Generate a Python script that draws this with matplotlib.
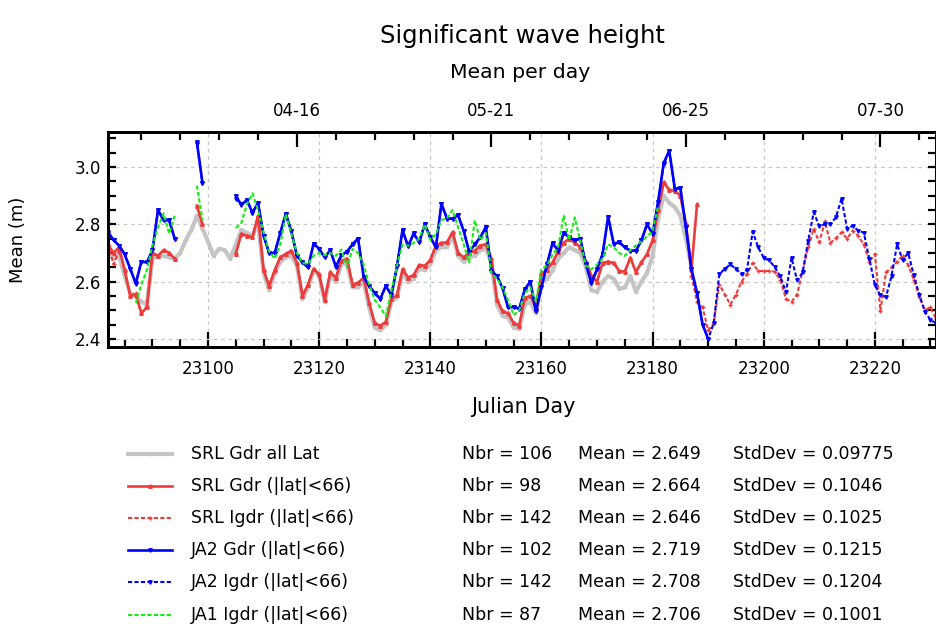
import numpy as np
import matplotlib
matplotlib.use("Agg")
import matplotlib.pyplot as plt
from matplotlib.lines import Line2D
from matplotlib.ticker import MultipleLocator, FormatStrFormatter

# daily means of significant wave height, Julian days (CNES)
gray_start = 23082
gray_vals = [2.70, 2.68, 2.69, 2.62, 2.56, 2.55, 2.53, 2.52, 2.68, 2.69,
             2.69, 2.685, 2.68, 2.70, 2.745, 2.78, 2.83, 2.785, 2.74, 2.69,
             2.715, 2.71, 2.68, 2.73, 2.78, 2.77, 2.76, 2.81, 2.63, 2.57,
             2.63, 2.67, 2.685, 2.69, 2.655, 2.54, 2.58, 2.64, 2.62, 2.53,
             2.62, 2.60, 2.66, 2.665, 2.58, 2.58, 2.60, 2.51, 2.44, 2.43,
             2.45, 2.53, 2.545, 2.63, 2.60, 2.61, 2.645, 2.64, 2.66, 2.71,
             2.72, 2.72, 2.76, 2.69, 2.67, 2.685, 2.69, 2.71, 2.715, 2.665,
             2.52, 2.48, 2.475, 2.44, 2.435, 2.52, 2.53, 2.49, 2.60, 2.61,
             2.64, 2.68, 2.70, 2.72, 2.71, 2.70, 2.65, 2.57, 2.565, 2.60,
             2.62, 2.61, 2.575, 2.58, 2.62, 2.565, 2.60, 2.63, 2.69, 2.82,
             2.90, 2.875, 2.86, 2.83, 2.75, 2.65]

srl_gdr_start = 23082
srl_gdr_vals = [2.73, 2.70, 2.72, 2.64, 2.55, 2.555, 2.49, 2.51, 2.70, 2.69,
                2.71, 2.70, 2.68, None, None, None, 2.865, 2.80, None, None,
                None, None, None, 2.697, 2.767, 2.76, 2.755, 2.83, 2.64, 2.585,
                2.64, 2.685, 2.697, 2.708, 2.665, 2.55, 2.59, 2.645, 2.625, 2.537,
                2.632, 2.614, 2.673, 2.68, 2.59, 2.596, 2.614, 2.526, 2.455, 2.446,
                2.46, 2.54, 2.552, 2.643, 2.614, 2.623, 2.658, 2.655, 2.675, 2.726,
                2.735, 2.737, 2.773, 2.70, 2.685, 2.70, 2.708, 2.726, 2.73, 2.68,
                2.537, 2.496, 2.49, 2.455, 2.447, 2.543, 2.55, 2.51, 2.63, 2.64,
                2.667, 2.705, 2.735, 2.75, 2.735, 2.72, 2.67, 2.62, 2.60, 2.665,
                2.67, 2.665, 2.637, 2.635, 2.683, 2.634, 2.667, 2.696, 2.744, 2.85,
                2.947, 2.92, 2.917, 2.90, 2.80, 2.645, 2.87]

srl_igdr_start = 23082
srl_igdr_vals = [2.73, 2.66, 2.71, 2.64, 2.55, 2.56, 2.49, 2.515, 2.70, 2.69,
                 2.71, 2.70, 2.68, None, None, None, 2.86, 2.80, None, None,
                 None, None, None, 2.70, 2.765, 2.76, 2.755, 2.83, 2.64, 2.585,
                 2.64, 2.685, 2.697, 2.708, 2.665, 2.55, 2.59, 2.645, 2.625, 2.537,
                 2.632, 2.614, 2.673, 2.68, 2.59, 2.596, 2.614, 2.526, 2.455, 2.446,
                 2.46, 2.54, 2.552, 2.643, 2.614, 2.623, 2.658, 2.655, 2.675, 2.726,
                 2.735, 2.737, 2.773, 2.70, 2.685, 2.70, 2.708, 2.726, 2.73, 2.68,
                 2.537, 2.496, 2.49, 2.455, 2.447, 2.543, 2.55, 2.51, 2.63, 2.64,
                 2.667, 2.705, 2.735, 2.75, 2.735, 2.72, 2.67, 2.62, 2.60, 2.665,
                 2.67, 2.665, 2.637, 2.635, 2.683, 2.634, 2.667, 2.696, 2.744, 2.85,
                 2.945, 2.92, 2.915, 2.90, 2.80, 2.62, 2.53, 2.51, 2.43, 2.455,
                 2.59, 2.555, 2.52, 2.555, 2.60, 2.626, 2.665, 2.637, 2.637, 2.637,
                 2.635, 2.605, 2.54, 2.53, 2.555, 2.637, 2.72, 2.785, 2.737, 2.81,
                 2.735, 2.752, 2.772, 2.75, 2.778, 2.76, 2.73, 2.67, 2.696, 2.498,
                 2.632, 2.65, 2.67, 2.69, 2.658, 2.607, 2.547, 2.50, 2.51, 2.47]

ja2_gdr_start = 23082
ja2_gdr_vals = [2.773, 2.745, 2.726, 2.695, 2.645, 2.593, 2.67, 2.667, 2.71, 2.85,
                2.814, 2.814, 2.75, None, None, None, 3.087, 2.944, None, None,
                None, None, None, 2.90, 2.867, 2.885, 2.84, 2.875, 2.76, 2.70,
                2.70, 2.77, 2.837, 2.775, 2.69, 2.667, 2.65, 2.733, 2.714, 2.685,
                2.709, 2.652, 2.692, 2.705, 2.73, 2.75, 2.617, 2.585, 2.56, 2.54,
                2.585, 2.553, 2.653, 2.78, 2.723, 2.768, 2.737, 2.80, 2.755, 2.72,
                2.872, 2.82, 2.82, 2.832, 2.777, 2.704, 2.73, 2.755, 2.79, 2.637,
                2.62, 2.577, 2.51, 2.512, 2.505, 2.573, 2.60, 2.496, 2.58, 2.66,
                2.735, 2.708, 2.77, 2.755, 2.744, 2.75, 2.66, 2.596, 2.643, 2.696,
                2.826, 2.732, 2.737, 2.72, 2.708, 2.708, 2.744, 2.80, 2.767, 2.879,
                3.014, 3.057, 2.924, 2.926, 2.79, 2.643, 2.56, 2.45, 2.40]

ja2_igdr_start = 23082
ja2_igdr_vals = [2.77, 2.745, 2.726, 2.695, 2.645, 2.595, 2.67, 2.667, 2.71, 2.85,
                 2.814, 2.814, 2.75, None, None, None, 3.08, 2.944, None, None,
                 None, None, None, 2.89, 2.87, 2.885, 2.84, 2.875, 2.76, 2.70,
                 2.70, 2.77, 2.837, 2.775, 2.69, 2.667, 2.65, 2.733, 2.714, 2.685,
                 2.709, 2.652, 2.692, 2.705, 2.73, 2.75, 2.617, 2.585, 2.56, 2.54,
                 2.585, 2.553, 2.653, 2.78, 2.723, 2.768, 2.737, 2.80, 2.755, 2.72,
                 2.872, 2.82, 2.82, 2.832, 2.777, 2.704, 2.73, 2.755, 2.79, 2.637,
                 2.62, 2.577, 2.51, 2.512, 2.505, 2.573, 2.60, 2.496, 2.58, 2.66,
                 2.735, 2.708, 2.77, 2.755, 2.744, 2.75, 2.66, 2.596, 2.643, 2.696,
                 2.826, 2.732, 2.737, 2.72, 2.708, 2.708, 2.744, 2.80, 2.767, 2.879,
                 3.01, 3.055, 2.924, 2.926, 2.79, 2.643, 2.56, 2.45, 2.40, 2.455,
                 2.625, 2.645, 2.66, 2.645, 2.625, 2.642, 2.774, 2.72, 2.683, 2.674,
                 2.65, 2.618, 2.563, 2.683, 2.605, 2.632, 2.743, 2.842, 2.793, 2.80,
                 2.80, 2.825, 2.89, 2.785, 2.795, 2.778, 2.771, 2.68, 2.588, 2.552,
                 2.547, 2.62, 2.73, 2.676, 2.70, 2.623, 2.555, 2.495, 2.467, 2.455]

ja1_igdr_start = 23087
ja1_igdr_vals = [2.526, 2.59, 2.64, 2.727, 2.79, 2.838, 2.768, 2.83, None, None,
                 None, 2.935, 2.814, None, None, None, None, None, 2.787, 2.805,
                 2.87, 2.908, 2.85, 2.77, 2.705, 2.68, 2.73, 2.835, 2.765, 2.70,
                 2.665, 2.662, 2.69, 2.70, 2.692, 2.70, 2.69, 2.712, 2.65, 2.714,
                 2.70, 2.66, 2.59, 2.537, 2.51, 2.48, 2.57, 2.655, 2.73, 2.725,
                 2.735, 2.75, 2.80, 2.745, 2.765, 2.815, 2.82, 2.85, 2.79, 2.73,
                 2.667, 2.814, 2.745, 2.77, 2.63, 2.61, 2.58, 2.535, 2.483, 2.50,
                 2.56, 2.58, 2.53, 2.645, 2.655, 2.695, 2.72, 2.83, 2.745, 2.824,
                 2.74, 2.655, 2.643, 2.66, 2.68, 2.73, 2.72, 2.70, 2.69, 2.71,
                 2.726, 2.74, 2.758, 2.775, 2.865]

date_ticks = [23116, 23151, 23186, 23221]
date_labels = ["04-16", "05-21", "06-25", "07-30"]

leg_labels = ["SRL Gdr all Lat", "SRL Gdr (|lat|<66)", "SRL Igdr (|lat|<66)",
              "JA2 Gdr (|lat|<66)", "JA2 Igdr (|lat|<66)", "JA1 Igdr (|lat|<66)"]
leg_nbr = ["106", "98", "142", "102", "142", "87"]
leg_mean = ["2.649", "2.664", "2.646", "2.719", "2.708", "2.706"]
leg_std = ["0.09775", "0.1046", "0.1025", "0.1215", "0.1204", "0.1001"]

RED = "#ee3b3b"
BLUE = "#0000ff"
GREEN = "#11ee11"
GRAY = "#c4c4c4"

styles = [
    dict(color=GRAY, lw=3.0, ls="-", marker="s", ms=2.0),
    dict(color=RED, lw=1.9, ls="-", marker="^", ms=2.5),
    dict(color=RED, lw=1.5, ls=(0, (2.0, 1.1)), marker="+", ms=3.0),
    dict(color=BLUE, lw=1.9, ls="-", marker="v", ms=2.5),
    dict(color=BLUE, lw=1.5, ls=(0, (2.0, 1.1)), marker="v", ms=2.5),
    dict(color=GREEN, lw=1.5, ls=(0, (2.0, 1.1)), marker="None", ms=0),
]

series = [(gray_start, gray_vals), (srl_gdr_start, srl_gdr_vals),
          (srl_igdr_start, srl_igdr_vals), (ja2_gdr_start, ja2_gdr_vals),
          (ja2_igdr_start, ja2_igdr_vals), (ja1_igdr_start, ja1_igdr_vals)]

W, H = 937, 624
fig = plt.figure(figsize=(W / 100, H / 100), dpi=100)
ax = fig.add_axes([108 / W, 1 - 347 / H, 828 / W, 215 / H])

order = [0, 2, 1, 4, 3, 5]
for k in order:
    start, vals = series[k]
    y = np.array(vals, dtype=float)
    x = start + np.arange(len(y))
    st = styles[k]
    ax.plot(x, y, color=st["color"], lw=st["lw"], ls=st["ls"],
            marker=st["marker"], ms=st["ms"], zorder=2 + k)

ax.set_xlim(23082, 23231)
ax.set_ylim(2.372, 3.122)
ax.xaxis.set_major_locator(MultipleLocator(20))
ax.xaxis.set_minor_locator(MultipleLocator(5))
ax.yaxis.set_major_locator(MultipleLocator(0.2))
ax.yaxis.set_minor_locator(MultipleLocator(0.05))
ax.yaxis.set_major_formatter(FormatStrFormatter("%.1f"))
ax.grid(True, which="major", ls=(0, (3, 3)), color="#c8c8c8", lw=0.9)
ax.tick_params(which="both", direction="in", top=False, right=True, width=1.6,
               labelsize=12)
ax.tick_params(axis="x", which="major", length=11, pad=9)
ax.tick_params(axis="x", which="minor", length=6)
ax.tick_params(axis="y", which="both", length=6, pad=5)
for s in ax.spines.values():
    s.set_linewidth(2)

ax2 = ax.twiny()
ax2.set_xlim(ax.get_xlim())
ax2.set_xticks(date_ticks)
ax2.set_xticklabels(date_labels)
ax2.xaxis.set_minor_locator(MultipleLocator(7, offset=2))
ax2.tick_params(which="both", direction="in", width=1.6, labelsize=12)
ax2.tick_params(which="major", length=11, pad=9)
ax2.tick_params(which="minor", length=6)
for s in ax2.spines.values():
    s.set_linewidth(2)

fig.text(522 / W, 1 - 36 / H, "Significant wave height", ha="center", va="center", fontsize=17.5)
fig.text(520 / W, 1 - 73 / H, "Mean per day", ha="center", va="center", fontsize=14.7)
fig.text(523 / W, 1 - 407 / H, "Julian Day", ha="center", va="center", fontsize=15)
fig.text(18 / W, 1 - 240 / H, "Mean (m)", ha="center", va="center", fontsize=13,
         rotation=90)

# hand-made legend with statistics
row_y = [454, 486, 518, 550, 582, 615]
for i in range(6):
    yy = 1 - row_y[i] / H
    st = styles[i]
    fig.add_artist(Line2D([128 / W, 172 / W], [yy, yy], transform=fig.transFigure,
                          color=st["color"], lw=st["lw"], ls=st["ls"]))
    if st["marker"] != "None":
        fig.add_artist(Line2D([150 / W], [yy], transform=fig.transFigure,
                              color=st["color"], marker=st["marker"], ms=st["ms"],
                              ls="None"))
    fig.text(191 / W, yy, leg_labels[i], va="center", fontsize=12.5)
    fig.text(462 / W, yy, "Nbr = " + leg_nbr[i], va="center", fontsize=12.5)
    fig.text(578 / W, yy, "Mean = " + leg_mean[i], va="center", fontsize=12.5)
    fig.text(733 / W, yy, "StdDev = " + leg_std[i], va="center", fontsize=12.5)

fig.savefig("out.png", dpi=100)
